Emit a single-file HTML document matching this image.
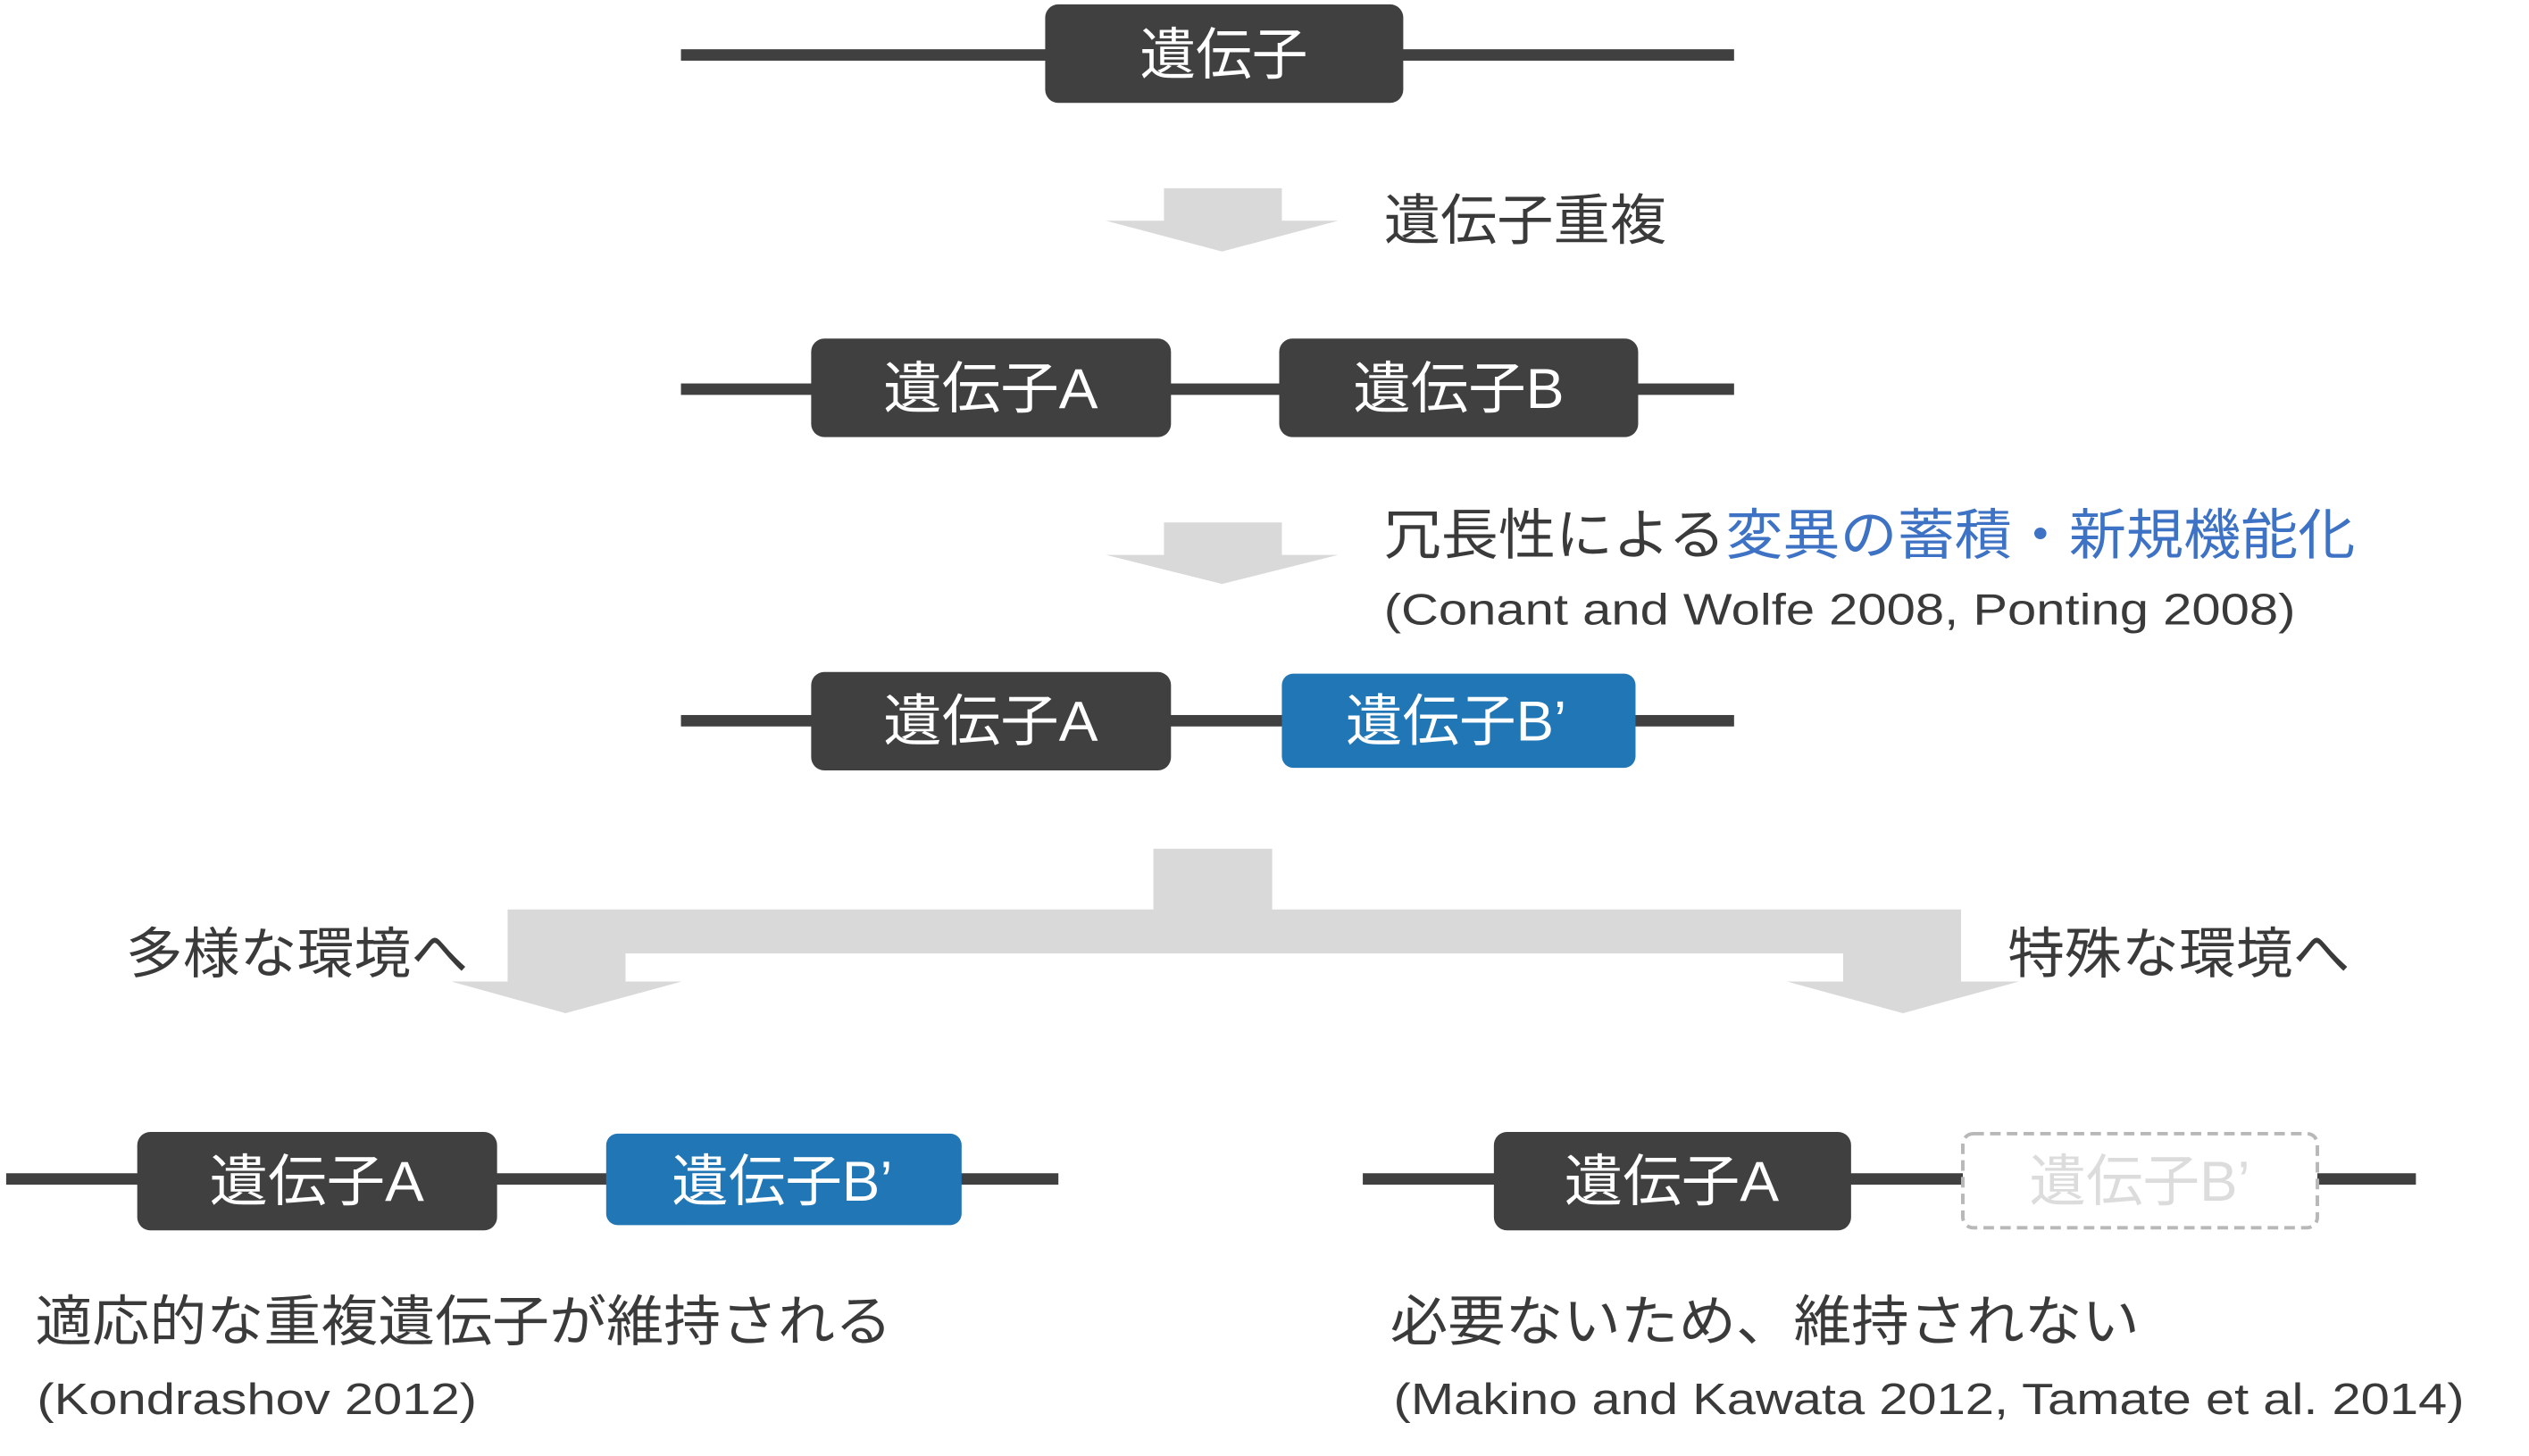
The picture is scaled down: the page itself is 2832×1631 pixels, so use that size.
<!DOCTYPE html>
<html><head><meta charset="utf-8"><style>html,body{margin:0;padding:0;background:#fff}svg{display:block}</style></head>
<body>
<svg width="2832" height="1631" viewBox="0 0 2832 1631" xmlns="http://www.w3.org/2000/svg" font-family="'Liberation Sans','Noto Sans CJK JP',sans-serif">
<g transform="scale(0.9852)">
<g fill="#404040">
<rect x="774" y="56" width="1197" height="13"/>
<rect x="1188" y="5" width="407" height="112" rx="15"/>
<rect x="774" y="436" width="1197" height="13"/>
<rect x="922" y="385" width="409" height="112" rx="15"/>
<rect x="1454" y="385" width="408" height="112" rx="15"/>
<rect x="774" y="813" width="1197" height="13"/>
<rect x="922" y="764" width="409" height="112" rx="15"/>
<rect x="7" y="1334" width="1196" height="13"/>
<rect x="156" y="1287" width="409" height="112" rx="15"/>
<rect x="1549" y="1334" width="1197" height="13"/>
<rect x="1698" y="1287" width="406" height="112" rx="15"/>
</g>
<rect x="1457" y="766" width="402" height="107" rx="13" fill="#2176b5"/>
<rect x="689" y="1289" width="404" height="104" rx="13" fill="#2176b5"/>
<rect x="2231" y="1289" width="403" height="107" rx="12" fill="#fff" stroke="#b8b8b8" stroke-width="4" stroke-dasharray="12,7"/>
<g fill="#d9d9d9">
<polygon points="1323,214 1457,214 1457,251 1521,251 1389,286 1257,251 1323,251"/>
<polygon points="1323,594 1457,594 1457,631 1521,631 1389,664 1257,631 1323,631"/>
<polygon points="1311,965 1446,965 1446,1034 2229,1034 2229,1116 2295,1116 2163,1152 2031,1116 2095,1116 2095,1084 711,1084 711,1116 775,1116 643,1152 513,1116 577,1116 577,1034 1311,1034"/>
</g>
<g fill="#fff" font-size="64">
<text x="1391" y="84" text-anchor="middle" textLength="191" lengthAdjust="spacingAndGlyphs">遺伝子</text>
<text x="1126" y="464" text-anchor="middle" textLength="244" lengthAdjust="spacingAndGlyphs">遺伝子A</text>
<text x="1658" y="464" text-anchor="middle" textLength="240" lengthAdjust="spacingAndGlyphs">遺伝子B</text>
<text x="1126" y="842" text-anchor="middle" textLength="244" lengthAdjust="spacingAndGlyphs">遺伝子A</text>
<text x="1655" y="842" text-anchor="middle" textLength="251" lengthAdjust="spacingAndGlyphs">遺伝子B’</text>
<text x="360" y="1365" text-anchor="middle" textLength="244" lengthAdjust="spacingAndGlyphs">遺伝子A</text>
<text x="889" y="1365" text-anchor="middle" textLength="251" lengthAdjust="spacingAndGlyphs">遺伝子B’</text>
<text x="1900" y="1365" text-anchor="middle" textLength="244" lengthAdjust="spacingAndGlyphs">遺伝子A</text>
<text x="2432" y="1365" text-anchor="middle" textLength="251" lengthAdjust="spacingAndGlyphs" fill="#dcdcdc">遺伝子B’</text>
</g>
<g fill="#3a3a3a" font-size="62">
<text x="1573" y="272" textLength="321" lengthAdjust="spacingAndGlyphs">遺伝子重複</text>
<text x="1573" y="630" textLength="1104" lengthAdjust="spacingAndGlyphs">冗長性による<tspan fill="#3d72c4">変異の蓄積・新規機能化</tspan></text>
<text x="143" y="1106" textLength="389" lengthAdjust="spacingAndGlyphs">多様な環境へ</text>
<text x="2282" y="1106" textLength="389" lengthAdjust="spacingAndGlyphs">特殊な環境へ</text>
<text x="40" y="1524" textLength="974" lengthAdjust="spacingAndGlyphs">適応的な重複遺伝子が維持される</text>
<text x="1580" y="1524" textLength="852" lengthAdjust="spacingAndGlyphs">必要ないため、維持されない</text>
</g>
<g fill="#3a3a3a" font-size="50">
<text x="1573" y="710" textLength="1036" lengthAdjust="spacingAndGlyphs">(Conant and Wolfe 2008, Ponting 2008)</text>
<text x="42" y="1608" textLength="500" lengthAdjust="spacingAndGlyphs">(Kondrashov 2012)</text>
<text x="1584" y="1608" textLength="1217" lengthAdjust="spacingAndGlyphs">(Makino and Kawata 2012, Tamate et al. 2014)</text>
</g>
</g>
</svg>
</body></html>
